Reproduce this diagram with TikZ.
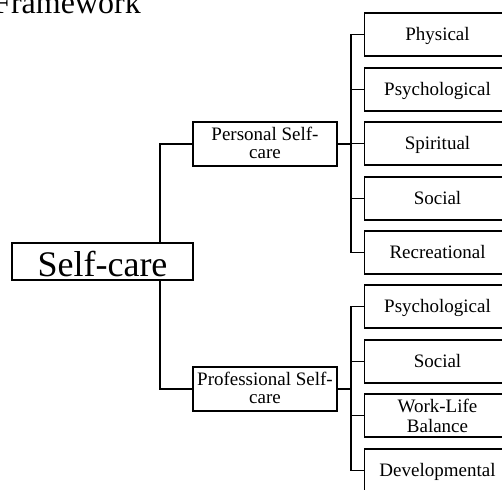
\documentclass[tikz,border=0pt]{standalone}
\usepackage{fontspec}
\setmainfont{Liberation Serif}
\begin{document}
\begin{tikzpicture}[x=1pt,y=-1pt,
  box/.style={draw, line width=1.9pt, inner sep=0pt, align=center},
  leaf/.style={box, minimum width=146pt, minimum height=43pt,
    font=\fontsize{19}{20}\selectfont, text height=14pt, text depth=2pt},
  leaftwo/.style={box, minimum width=146pt, minimum height=43pt,
    font=\fontsize{19}{20}\selectfont, text height=33pt, text depth=0pt},
  mid/.style={box, minimum width=144pt, minimum height=44pt,
    font=\fontsize{19}{18.5}\selectfont, text height=31.5pt, text depth=2.5pt},
  link/.style={line width=1.9pt, line join=miter}]
\useasboundingbox (0,0) rectangle (502,489);
\clip (0,0) rectangle (502,489);

% heading, partly outside the frame
\node[font=\fontsize{32}{32}\selectfont, anchor=base east, inner sep=0pt] (title) at (141,14) {Framework};

% root
\node[box, minimum width=181pt, minimum height=37pt,
  font=\fontsize{36}{36}\selectfont, text height=30pt, text depth=0pt] (self) at (102.5,261.5) {Self-care};

% second level
\node[mid] (personal) at (265,144) {Personal Self-\\care};
\node[mid] (professional) at (265,389) {Professional Self-\\care};

% personal self-care areas
\node[leaf] (physical)     at (437.5,34.5)  {Physical};
\node[leaf] (psychP)       at (437.5,89.5)  {Psychological};
\node[leaf] (spiritual)    at (437.5,143.5) {Spiritual};
\node[leaf] (socialP)      at (437.5,198.5) {Social};
\node[leaf] (recreational) at (437.5,252.5) {Recreational};

% professional self-care areas
\node[leaf]    (psychQ)        at (437.5,306.5) {Psychological};
\node[leaf]    (socialQ)       at (437.5,361.5) {Social};
\node[leaftwo] (worklife)      at (437.5,415.5) {Work-Life\\Balance};
\node[leaf]    (developmental) at (437.5,470.5) {Developmental};

% connectors
\draw[link] ([xshift=57.5pt]self.north) |- (personal.west);
\draw[link] ([xshift=57.5pt]self.south) |- (professional.west);
\foreach \c in {physical,psychP,spiritual,socialP,recreational}
  \draw[link] (personal.east) -| ([xshift=-12.5pt]\c.west) -- (\c.west);
\foreach \c in {psychQ,socialQ,worklife,developmental}
  \draw[link] (professional.east) -| ([xshift=-12.5pt]\c.west) -- (\c.west);
\end{tikzpicture}
\end{document}
